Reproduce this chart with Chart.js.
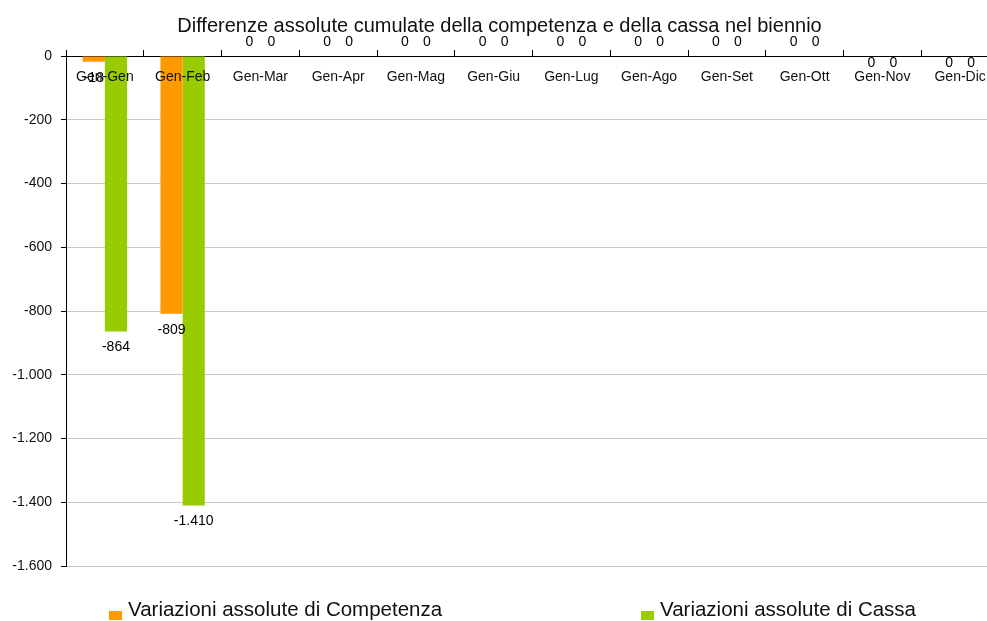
<!DOCTYPE html>
<html>
<head>
<meta charset="utf-8">
<script src="https://cdn.jsdelivr.net/npm/chart.js@4"></script>
<style>
	html, body { margin: 0; padding: 0; background: #fff; overflow: hidden; }
	#wrap { position: relative; width: 1003px; height: 621px; }
	.legend-item { position: absolute; top: 597px; font: 20.5px "Liberation Sans", Arial, sans-serif; color: #111; white-space: nowrap; }
	.legend-item span { position: absolute; left: -19px; top: 14px; width: 13px; height: 9px; }
</style>
</head>
<body>
<div id="wrap">
	<canvas id="chart" width="1003" height="621"></canvas>
	<div class="legend-item" style="left:128px"><span style="background:#ff9900"></span>Variazioni assolute di Competenza</div>
	<div class="legend-item" style="left:660px"><span style="background:#99cc00"></span>Variazioni assolute di Cassa</div>
</div>
<script>
const categories = ['Gen-Gen', 'Gen-Feb', 'Gen-Mar', 'Gen-Apr', 'Gen-Mag', 'Gen-Giu', 'Gen-Lug', 'Gen-Ago', 'Gen-Set', 'Gen-Ott', 'Gen-Nov', 'Gen-Dic'];
const competenza = [-18, -809, 0, 0, 0, 0, 0, 0, 0, 0, 0, 0];
const cassa = [-864, -1410, 0, 0, 0, 0, 0, 0, 0, 0, 0, 0];
const series_names = ['Variazioni assolute di Competenza', 'Variazioni assolute di Cassa'];
const chart_title = 'Differenze assolute cumulate della competenza e della cassa nel biennio';

const ctx = document.getElementById('chart');
const font_family = '"Liberation Sans", Arial, sans-serif';

// 1.000 style thousands separator
function formatNumber (value) {
	const sign = value < 0 ? '-' : '';
	return sign + String(Math.abs(value)).replace(/\B(?=(\d{3})+(?!\d))/g, '.');
}

// Category names sit just under the zero line, inside the plot
const categoryLabels = {
	id: 'categoryLabels',
	afterDatasetsDraw (chart) {
		const x = chart.scales.x;
		const c = chart.ctx;
		c.save();
		c.font = '14px ' + font_family;
		c.fillStyle = '#111';
		c.textAlign = 'center';
		c.textBaseline = 'middle';
		categories.forEach((name, i) => {
			c.fillText(name, x.getPixelForValue(i), chart.chartArea.top + 21);
		});
		c.restore();
	}
};

// Value labels under the end of each bar, zeros above the axis
const valueLabels = {
	id: 'valueLabels',
	afterDatasetsDraw (chart) {
		const c = chart.ctx;
		c.save();
		c.font = '14px ' + font_family;
		c.fillStyle = '#000';
		c.textAlign = 'center';
		c.textBaseline = 'middle';
		chart.data.datasets.forEach((ds, d) => {
			chart.getDatasetMeta(d).data.forEach((bar, i) => {
				const v = ds.data[i];
				let y;
				if (v < 0) y = bar.y + 16;
				else y = i < 10 ? chart.chartArea.top - 14 : chart.chartArea.top + 7;
				c.fillText(formatNumber(v), bar.x, y);
			});
		});
		c.restore();
	}
};

new Chart(ctx, {
	type: 'bar',
	data: {
		labels: categories,
		datasets: [
			{ label: series_names[0], data: competenza, backgroundColor: '#ff9900' },
			{ label: series_names[1], data: cassa, backgroundColor: '#99cc00' }
		]
	},
	options: {
		responsive: false,
		animation: false,
		layout: { padding: { top: 0, bottom: 55, left: 0, right: 4 } },
		categoryPercentage: 0.57,
		barPercentage: 1,
		plugins: {
			legend: { display: false },
			tooltip: { enabled: false },
			title: {
				display: true,
				text: chart_title,
				color: '#111',
				font: { family: font_family, size: 20, weight: 'normal' },
				padding: { top: 14, bottom: 0 }
			}
		},
		scales: {
			x: {
				position: 'top',
				ticks: { display: false },
				grid: { drawOnChartArea: false, tickLength: 6, color: '#000' },
				border: { color: '#000' },
				afterFit: scale => { scale.height = 18; }
			},
			y: {
				min: -1600,
				max: 0,
				ticks: {
					stepSize: 200,
					padding: 9,
					color: '#111',
					font: { family: font_family, size: 14 },
					callback: value => formatNumber(value)
				},
				grid: { color: '#c8c8c8', tickColor: '#000', tickLength: 5 },
				border: { color: '#000' },
				afterFit: scale => { scale.width = 66; }
			}
		}
	},
	plugins: [categoryLabels, valueLabels]
});
</script>
</body>
</html>
